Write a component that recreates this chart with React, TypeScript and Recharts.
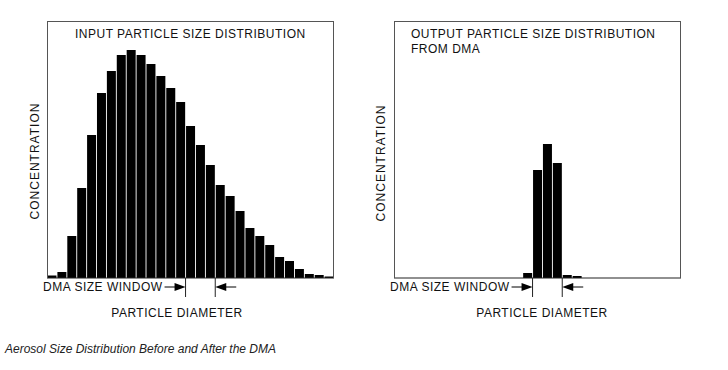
import React from 'react';
import { BarChart, Bar, XAxis, YAxis, ReferenceLine } from 'recharts';

// ---- data ----
const bins = [
  '1', '2', '3', '4', '5', '6', '7', '8', '9', '10',
  '11', '12', '13', '14', '15', '16', '17', '18', '19', '20',
  '21', '22', '23', '24', '25', '26', '27', '28', '29',
];
const inputConcentration = [
  2.5, 6, 42, 90, 143, 185, 207, 223, 228, 223,
  214, 202, 190, 176, 152, 133, 113, 93, 82, 67,
  50, 42, 33, 21, 17, 9, 4, 3, 1.5,
];
const outputConcentration = [
  0, 0, 0, 0, 0, 0, 0, 0, 0, 0,
  0, 0, 0, 5, 108, 134, 115, 3, 2, 0,
  0, 0, 0, 0, 0, 0, 0, 0, 0,
];
const windowStartBin = '15';
const windowEndBin = '18';
const windowLabel = 'DMA SIZE WINDOW';
const xLabel = 'PARTICLE DIAMETER';
const yLabel = 'CONCENTRATION';
const inputTitle = 'INPUT PARTICLE SIZE DISTRIBUTION';
const outputTitle = ['OUTPUT PARTICLE SIZE DISTRIBUTION', 'FROM DMA'];
const caption = 'Aerosol Size Distribution Before and After the DMA';

const FONT = '"Liberation Sans", Arial, Helvetica, sans-serif';

const inputData = bins.map((b, i) => ({ bin: b, value: inputConcentration[i] }));
const outputData = bins.map((b, i) => ({ bin: b, value: outputConcentration[i] }));

const WindowStartMarker = (props: any) => {
  const { x, y } = props.viewBox;
  const ay = y + 9;
  return (
    <g>
      <line x1={x - 21} y1={ay} x2={x - 8} y2={ay} stroke="#000" strokeWidth={1} />
      <polygon points={`${x},${ay} ${x - 11},${ay - 4} ${x - 11},${ay + 4}`} fill="#000" />
      <text
        x={x - 23}
        y={ay + 4.3}
        textAnchor="end"
        fontFamily={FONT}
        fontSize={12}
        letterSpacing={0.5}
        fill="#111"
      >
        {windowLabel}
      </text>
    </g>
  );
};

const WindowEndMarker = (props: any) => {
  const { x, y } = props.viewBox;
  const ay = y + 9;
  return (
    <g>
      <line x1={x + 8} y1={ay} x2={x + 21} y2={ay} stroke="#000" strokeWidth={1} />
      <polygon points={`${x},${ay} ${x + 11},${ay - 4} ${x + 11},${ay + 4}`} fill="#000" />
    </g>
  );
};

function Panel({ data, left }: { data: any[]; left: number }) {
  return (
    <div style={{ position: 'absolute', left, top: 0 }}>
      <BarChart
        width={334}
        height={302}
        data={data}
        margin={{ top: 21, right: 0, bottom: 0, left: 47 }}
        barCategoryGap={0.5}
      >
        <XAxis dataKey="bin" hide />
        <YAxis hide domain={[-24, 257]} allowDataOverflow />
        <Bar dataKey="value" fill="#000" isAnimationActive={false} />
        <ReferenceLine y={0} stroke="#222" strokeWidth={1.2} />
        <ReferenceLine
          segment={[{ x: windowStartBin, y: -19 }, { x: windowStartBin, y: 0 }]}
          position="start"
          stroke="#222"
          strokeWidth={1}
          label={WindowStartMarker}
        />
        <ReferenceLine
          segment={[{ x: windowEndBin, y: -19 }, { x: windowEndBin, y: 0 }]}
          position="start"
          stroke="#222"
          strokeWidth={1}
          label={WindowEndMarker}
        />
      </BarChart>
    </div>
  );
}

const textBase: React.CSSProperties = {
  position: 'absolute',
  fontFamily: FONT,
  fontSize: 12,
  lineHeight: '12px',
  letterSpacing: 0.5,
  color: '#111',
  whiteSpace: 'nowrap',
};

function Box({ left }: { left: number }) {
  return (
    <div
      style={{
        position: 'absolute',
        left,
        top: 21,
        width: 287,
        height: 257,
        boxSizing: 'border-box',
        borderTop: '1px solid #555',
        borderLeft: '1px solid #555',
        borderRight: '1px solid #555',
      }}
    />
  );
}

function YTitle({ cx, cy }: { cx: number; cy: number }) {
  const w = 140;
  return (
    <div
      style={{
        ...textBase,
        letterSpacing: 1,
        left: cx - w / 2,
        top: cy - 6,
        width: w,
        height: 12,
        textAlign: 'center',
        transform: 'rotate(-90deg)',
      }}
    >
      {yLabel}
    </div>
  );
}

export default function App() {
  return (
    <div
      style={{
        position: 'absolute',
        left: 0,
        top: 0,
        width: 728,
        height: 370,
        background: '#fff',
        overflow: 'hidden',
      }}
    >
      <Panel data={inputData} left={0} />
      <Panel data={outputData} left={347} />
      <Box left={47} />
      <Box left={394} />

      <div style={{ ...textBase, left: 75, top: 28 }}>{inputTitle}</div>
      <div style={{ ...textBase, left: 411, top: 28 }}>{outputTitle[0]}</div>
      <div style={{ ...textBase, left: 411, top: 43 }}>{outputTitle[1]}</div>

      <YTitle cx={35} cy={161} />
      <YTitle cx={381} cy={163} />

      <div style={{ ...textBase, left: 177 - 80, width: 160, textAlign: 'center', top: 307 }}>{xLabel}</div>
      <div style={{ ...textBase, left: 542 - 80, width: 160, textAlign: 'center', top: 307 }}>{xLabel}</div>

      <div
        style={{
          ...textBase,
          letterSpacing: 0,
          fontStyle: 'italic',
          left: 5,
          top: 343,
          color: '#222',
        }}
      >
        {caption}
      </div>
    </div>
  );
}
